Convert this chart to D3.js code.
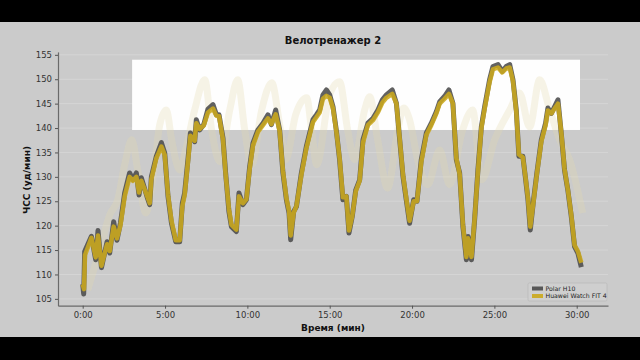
<!DOCTYPE html>
<html><head><meta charset="utf-8">
<script src="https://cdn.jsdelivr.net/npm/d3@7"></script>
<style>body{margin:0;background:#000}svg{display:block}text{font-family:"DejaVu Sans",sans-serif}</style>
</head><body><svg id="c" width="640" height="360"></svg>
<script>
const title = "Велотренажер 2";
const xLabel = "Время (мин)";
const yLabel = "ЧСС (уд/мин)";
const seriesNames = ["Polar H10", "Huawei Watch FIT 4"];
const xTicks = [0, 5, 10, 15, 20, 25, 30];
const yTicks = [105, 110, 115, 120, 125, 130, 135, 140, 145, 150, 155];

const polarTime = [0,0.06,0.12,0.53,0.79,0.93,1.14,1.48,1.64,1.88,2.08,2.29,2.55,2.85,3.05,3.26,3.42,3.56,3.90,4.07,4.17,4.47,4.78,4.98,5.18,5.39,5.65,5.89,6.05,6.19,6.39,6.54,6.80,6.90,7.10,7.35,7.61,7.91,8.12,8.28,8.52,8.68,8.88,9.03,9.33,9.49,9.73,9.94,10.14,10.34,10.64,10.95,11.25,11.46,11.72,11.96,12.16,12.37,12.53,12.63,12.81,12.98,13.28,13.58,13.98,14.19,14.39,14.59,14.80,15.00,15.20,15.40,15.60,15.80,16.01,16.17,16.37,16.58,16.82,17.02,17.32,17.63,17.93,18.20,18.44,18.80,19.05,19.25,19.45,19.65,19.85,20.10,20.30,20.56,20.87,21.17,21.48,21.68,21.98,22.24,22.48,22.69,22.89,23.09,23.30,23.40,23.61,23.80,24.00,24.21,24.41,24.71,24.91,25.22,25.48,25.72,25.93,26.13,26.33,26.49,26.73,26.90,27.04,27.18,27.38,27.58,27.85,28.11,28.25,28.46,28.66,28.86,29.06,29.26,29.46,29.67,29.87,30.07,30.28];
const polarHR = [108,106,114.7,117.8,113,119,111.4,116.7,114.4,120.8,117,120.5,126.7,130.8,129.4,130.8,126.3,129.8,126,124.3,130,134.2,137,134.9,126,120.5,116.7,116.7,124.6,126.7,133.5,139,137.2,141.7,139.6,140.7,143.9,144.8,142.7,142.7,137.9,130.8,122.9,119.8,118.8,126.7,124.3,125.3,132.1,136.9,139.6,141,142.7,140.7,143.7,139.6,130.8,125.3,122.6,117.1,122.9,123.9,130.8,136.2,141.7,142.7,143.7,146.8,147.8,146.8,144.4,139.6,133.5,125.3,126,118.5,121.9,127.3,129.4,137.6,141,142,143.7,145.8,146.8,147.8,145.1,137.6,130.1,125.3,120.5,125.3,125,133.5,139,141,143.4,145.4,146.5,147.8,145.1,133.5,130.8,119.8,113,117.8,113,121.2,131.4,140.3,144.4,149.9,152.6,153,151.6,152.6,153,149.9,143.7,134.2,134.2,129.4,125.3,119.1,125.3,130.8,137.6,141,144.1,143,144.4,145.8,139,131.4,127.3,121.9,115.7,114.4,111.5];

const huaweiTime = [0,0.08,0.14,0.53,0.79,0.93,1.14,1.48,1.64,1.88,2.08,2.29,2.55,2.85,3.05,3.26,3.42,3.56,3.90,4.07,4.17,4.47,4.78,4.98,5.18,5.39,5.65,5.89,6.05,6.19,6.39,6.54,6.80,6.90,7.10,7.35,7.61,7.91,8.12,8.28,8.52,8.68,8.88,9.03,9.33,9.49,9.73,9.94,10.14,10.34,10.64,10.95,11.25,11.46,11.72,11.96,12.16,12.37,12.53,12.63,12.81,12.98,13.28,13.58,13.98,14.19,14.39,14.59,14.80,15.00,15.20,15.40,15.60,15.80,16.01,16.17,16.37,16.58,16.82,17.02,17.32,17.63,17.93,18.20,18.44,18.80,19.05,19.25,19.45,19.65,19.85,20.10,20.30,20.56,20.87,21.17,21.48,21.68,21.98,22.24,22.48,22.69,22.89,23.09,23.30,23.40,23.61,23.80,24.00,24.21,24.41,24.71,24.91,25.22,25.48,25.72,25.93,26.13,26.33,26.49,26.73,26.90,27.04,27.18,27.38,27.58,27.85,28.11,28.25,28.46,28.66,28.86,29.06,29.26,29.46,29.67,29.87,30.07,30.28];
const huaweiHR = [108,107,114,117.5,113.5,118,111.8,116.2,114.8,119.8,117.4,120,126,130,129.2,130,126.8,129.2,126.2,124.6,129.5,133.8,136.2,134.5,126.4,121,117,117,124,126.2,133,138.4,137.4,141,139.8,140.5,143.2,144,142.5,142.4,137.6,130.5,123.4,120.2,119.2,126,124.6,125.4,131.6,136.4,139.2,140.6,142,140.8,142.8,139.4,131.2,125.6,123,118,122.6,124,130.4,135.8,141.2,142.2,143.2,146,146.6,146.2,144,139.4,133.8,125.8,126,119,122,127,129.2,137,140.6,141.6,143.2,145.2,146.2,147,145,137.8,130.4,125.6,121,125,125,133,138.6,140.6,143,145,146,147,145,133.8,130.6,120.2,113.6,117.4,113.6,121.4,131,140,144,149.4,152,152.4,151.4,152.2,152.4,149.6,143.4,134.6,134,129.6,125.6,119.8,125,130.6,137.2,140.6,143.6,143,144,145,139.2,131.6,127.4,122.2,116,114.8,112.4];

const ghostTime = [0.30,1.03,1.64,2.13,2.55,2.98,3.34,3.83,4.37,4.68,5.08,5.40,5.89,6.25,6.80,7.41,7.83,8.32,8.93,9.41,9.84,10.26,10.87,11.48,11.96,12.33,12.93,13.60,13.90,14.21,14.99,15.60,16.09,16.51,17.12,17.43,17.91,18.52,19.13,19.49,19.85,20.34,20.95,21.68,22.28,23.07,23.68,24.23,25.02,25.93,26.53,27.14,27.75,28.36,28.96,29.57,30.36];
const ghostHR = [106.8,115,122.2,125.3,132.5,137.6,131.4,122.6,132.5,140.7,143.7,137.6,131.4,135.5,143.7,149.9,139.6,133.1,143.7,149.9,139.6,132.5,143.7,149.3,140.7,133.5,142.7,146.2,139.6,132.5,146.8,149.5,139.6,133.5,143.7,146.4,137.6,127.7,139.6,144.1,141.7,133.5,128.4,135.5,128.4,139.6,143.7,129.4,137.6,143.7,147.2,140.2,149.9,143.7,137.6,133.5,122.6];

const boxTime = [3.0, 30.2];
const boxHR = [139.6, 154];

const W = 640, H = 360;
const svg = d3.select("#c");
svg.append("rect").attr("width", W).attr("height", H).attr("fill", "#000");
svg.append("rect").attr("x", 0).attr("y", 22).attr("width", W).attr("height", 315).attr("fill", "#cbcbcb");

const x = d3.scaleLinear().domain([-1.5, 31.9]).range([58, 608]);
const y = d3.scaleLinear().domain([103.6, 155.6]).range([305.7, 51.9]);

svg.append("g").selectAll("line").data(yTicks).join("line")
  .attr("x1", x.range()[0]).attr("x2", x.range()[1])
  .attr("y1", d => y(d)).attr("y2", d => y(d))
  .attr("stroke", "#d8d8d8").attr("stroke-width", 0.8);

svg.append("rect").attr("x", x(boxTime[0])).attr("y", y(boxHR[1]))
  .attr("width", x(boxTime[1]) - x(boxTime[0])).attr("height", y(boxHR[0]) - y(boxHR[1]))
  .attr("fill", "#ffffff").attr("opacity", 0.97);

const line = d3.line().x(d => x(d[0])).y(d => y(d[1]));

const ghost = ghostTime.map((t, i) => [t, ghostHR[i]]);
svg.append("path").datum(ghost).attr("d", line.curve(d3.curveMonotoneX))
  .attr("fill", "none").attr("stroke", "#e4dcae").attr("stroke-width", 7).attr("opacity", 0.3)
  .attr("stroke-linejoin", "round");
line.curve(d3.curveLinear);

const polar = polarTime.map((t, i) => [t, polarHR[i]]);
const huawei = huaweiTime.map((t, i) => [t, huaweiHR[i]]);
svg.append("path").datum(polar).attr("d", line)
  .attr("fill", "none").attr("stroke", "#4b4b4b").attr("stroke-width", 5).attr("opacity", 0.88)
  .attr("stroke-linejoin", "round");
svg.append("path").datum(huawei).attr("d", line)
  .attr("fill", "none").attr("stroke", "#cba91c").attr("stroke-width", 4.5).attr("opacity", 0.88)
  .attr("stroke-linejoin", "round");

const fmt = d => d + ":00";
const xa = svg.append("g").attr("transform", `translate(0,${y.range()[0]})`)
  .call(d3.axisBottom(x).tickValues(xTicks).tickFormat(fmt).tickSize(3).tickPadding(3).tickSizeOuter(0));
const ya = svg.append("g").attr("transform", `translate(${x.range()[0]},0)`)
  .call(d3.axisLeft(y).tickValues(yTicks).tickSize(3).tickPadding(3).tickSizeOuter(0));
[xa, ya].forEach(a => {
  a.select(".domain").attr("stroke", "#6a6a6a").attr("stroke-width", 1.2);
  a.selectAll(".tick line").attr("stroke", "#555");
  a.selectAll("text").attr("fill", "#333").attr("font-size", 8.5).attr("font-family", "DejaVu Sans");
});

svg.append("text").attr("x", 333).attr("y", 44).attr("text-anchor", "middle")
  .attr("font-size", 10).attr("font-weight", "bold").attr("fill", "#111").text(title);
svg.append("text").attr("x", 333).attr("y", 331).attr("text-anchor", "middle")
  .attr("font-size", 9).attr("font-weight", "bold").attr("fill", "#111").text(xLabel);
svg.append("text").attr("transform", "translate(30,180) rotate(-90)").attr("text-anchor", "middle")
  .attr("font-size", 9).attr("font-weight", "bold").attr("fill", "#111").text(yLabel);

const lg = svg.append("g");
lg.append("rect").attr("x", 528).attr("y", 283).attr("width", 79).attr("height", 18).attr("rx", 1.5)
  .attr("fill", "#cfcfcf").attr("stroke", "#b5b5b5").attr("stroke-width", 0.6);
const colors = ["#4b4b4b", "#cba91c"];
seriesNames.forEach((n, i) => {
  const yy = 288.5 + i * 7.5;
  lg.append("line").attr("x1", 532).attr("x2", 543).attr("y1", yy).attr("y2", yy)
    .attr("stroke", colors[i]).attr("stroke-width", 4).attr("opacity", 0.9);
  lg.append("text").attr("x", 545.5).attr("y", yy + 2.3).attr("font-size", 6.2).attr("fill", "#222").text(n);
});
</script></body></html>
